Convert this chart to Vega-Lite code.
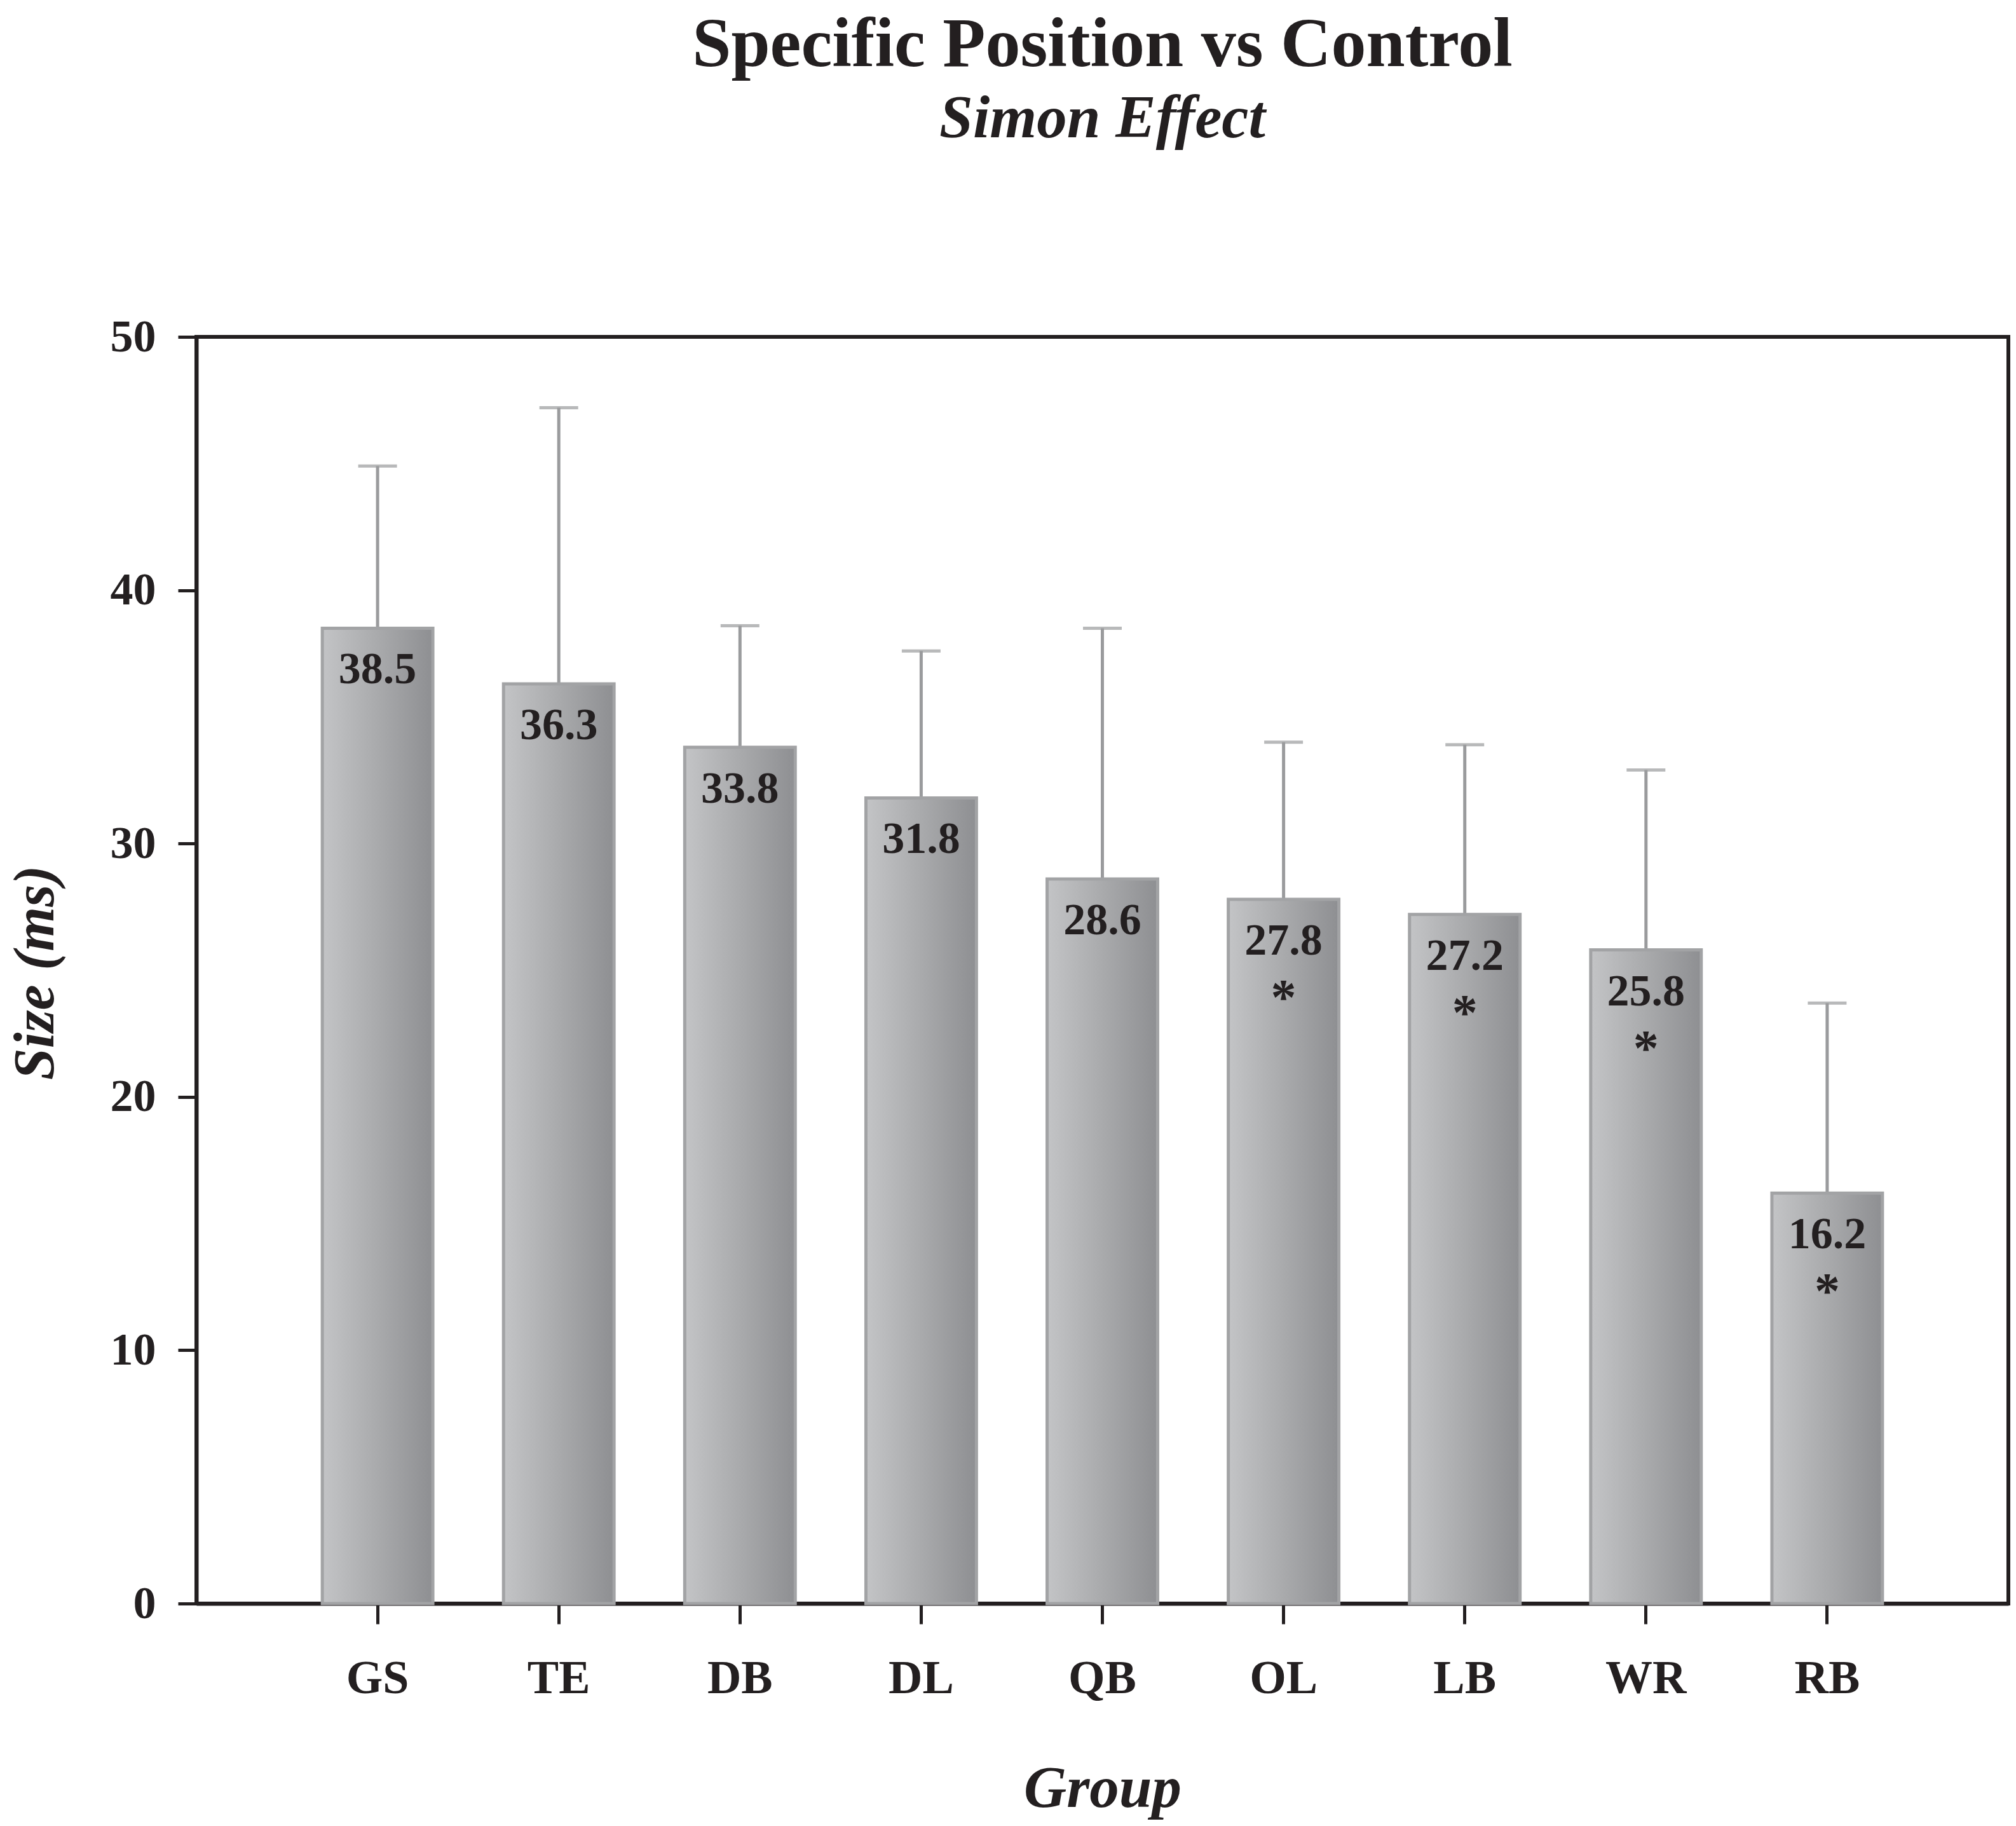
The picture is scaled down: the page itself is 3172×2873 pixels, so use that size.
{
  "$schema": "https://vega.github.io/schema/vega-lite/v6.json",
  "width": 2851,
  "height": 1993,
  "autosize": "none",
  "padding": {"left": 309, "top": 530, "right": 12, "bottom": 350},
  "background": "white",
  "title": {
    "text": "Specific Position vs Control",
    "subtitle": "Simon Effect",
    "anchor": "middle",
    "font": "Liberation Serif",
    "fontSize": 110,
    "fontWeight": "bold",
    "color": "#231f20",
    "subtitleFont": "Liberation Serif",
    "subtitleFontSize": 95,
    "subtitleFontWeight": "bold",
    "subtitleFontStyle": "italic",
    "subtitleColor": "#231f20",
    "subtitlePadding": 14,
    "offset": 258
  },
  "data": {
    "values": [
      {"group": "GS", "size": 38.5, "upper": 44.9, "sig": ""},
      {"group": "TE", "size": 36.3, "upper": 47.2, "sig": ""},
      {"group": "DB", "size": 33.8, "upper": 38.6, "sig": ""},
      {"group": "DL", "size": 31.8, "upper": 37.6, "sig": ""},
      {"group": "QB", "size": 28.6, "upper": 38.5, "sig": ""},
      {"group": "OL", "size": 27.8, "upper": 34.0, "sig": "*"},
      {"group": "LB", "size": 27.2, "upper": 33.9, "sig": "*"},
      {"group": "WR", "size": 25.8, "upper": 32.9, "sig": "*"},
      {"group": "RB", "size": 16.2, "upper": 23.7, "sig": "*"}
    ]
  },
  "encoding": {
    "x": {
      "field": "group",
      "type": "nominal",
      "sort": null,
      "scale": {"paddingInner": 0.39, "paddingOuter": 0.695},
      "axis": {
        "title": "Group",
        "labelAngle": 0,
        "titleY": 319,
        "titleBaseline": "alphabetic"
      }
    },
    "y": {
      "field": "size",
      "type": "quantitative",
      "scale": {"domain": [0, 50], "nice": false, "zero": true},
      "axis": {
        "title": "Size (ms)",
        "values": [0, 10, 20, 30, 40, 50],
        "titleX": -226,
        "titleY": 1000,
        "titleBaseline": "alphabetic",
        "titleAngle": -90,
        "titleFontSize": 90
      }
    }
  },
  "layer": [
    {
      "mark": {"type": "rule", "color": "#9a9b9d", "strokeWidth": 5},
      "encoding": {"y2": {"field": "upper"}}
    },
    {
      "mark": {"type": "tick", "color": "#9a9b9d", "size": 61, "thickness": 5},
      "encoding": {"y": {"field": "upper", "type": "quantitative"}}
    },
    {
      "mark": {
        "type": "bar",
        "stroke": "#a2a3a5",
        "strokeWidth": 5,
        "color": {
          "gradient": "linear",
          "x1": 0, "y1": 0, "x2": 1, "y2": 0,
          "stops": [
            {"offset": 0, "color": "#c3c4c6"},
            {"offset": 0.5, "color": "#a9aaac"},
            {"offset": 1, "color": "#8e8f92"}
          ]
        }
      }
    },
    {
      "mark": {
        "type": "text",
        "font": "Liberation Serif",
        "fontSize": 70,
        "fontWeight": "bold",
        "color": "#231f20",
        "baseline": "alphabetic",
        "dy": 87
      },
      "encoding": {"text": {"field": "size", "type": "quantitative", "format": ".1f"}}
    },
    {
      "mark": {
        "type": "text",
        "font": "Liberation Serif",
        "fontSize": 80,
        "fontWeight": "bold",
        "color": "#231f20",
        "baseline": "alphabetic",
        "dy": 181
      },
      "encoding": {"text": {"field": "sig"}}
    }
  ],
  "config": {
    "view": {"stroke": "#231f20", "strokeWidth": 6},
    "axis": {
      "grid": false,
      "domainColor": "#231f20",
      "domainWidth": 6,
      "tickColor": "#231f20",
      "tickWidth": 5,
      "labelFont": "Liberation Serif",
      "labelFontWeight": "bold",
      "labelColor": "#231f20",
      "titleFont": "Liberation Serif",
      "titleFontWeight": "bold",
      "titleFontStyle": "italic",
      "titleFontSize": 93,
      "titleColor": "#231f20"
    },
    "axisX": {"tickSize": 32, "labelFontSize": 74, "labelPadding": 50},
    "axisY": {"tickSize": 29, "labelFontSize": 72, "labelPadding": 35}
  }
}
